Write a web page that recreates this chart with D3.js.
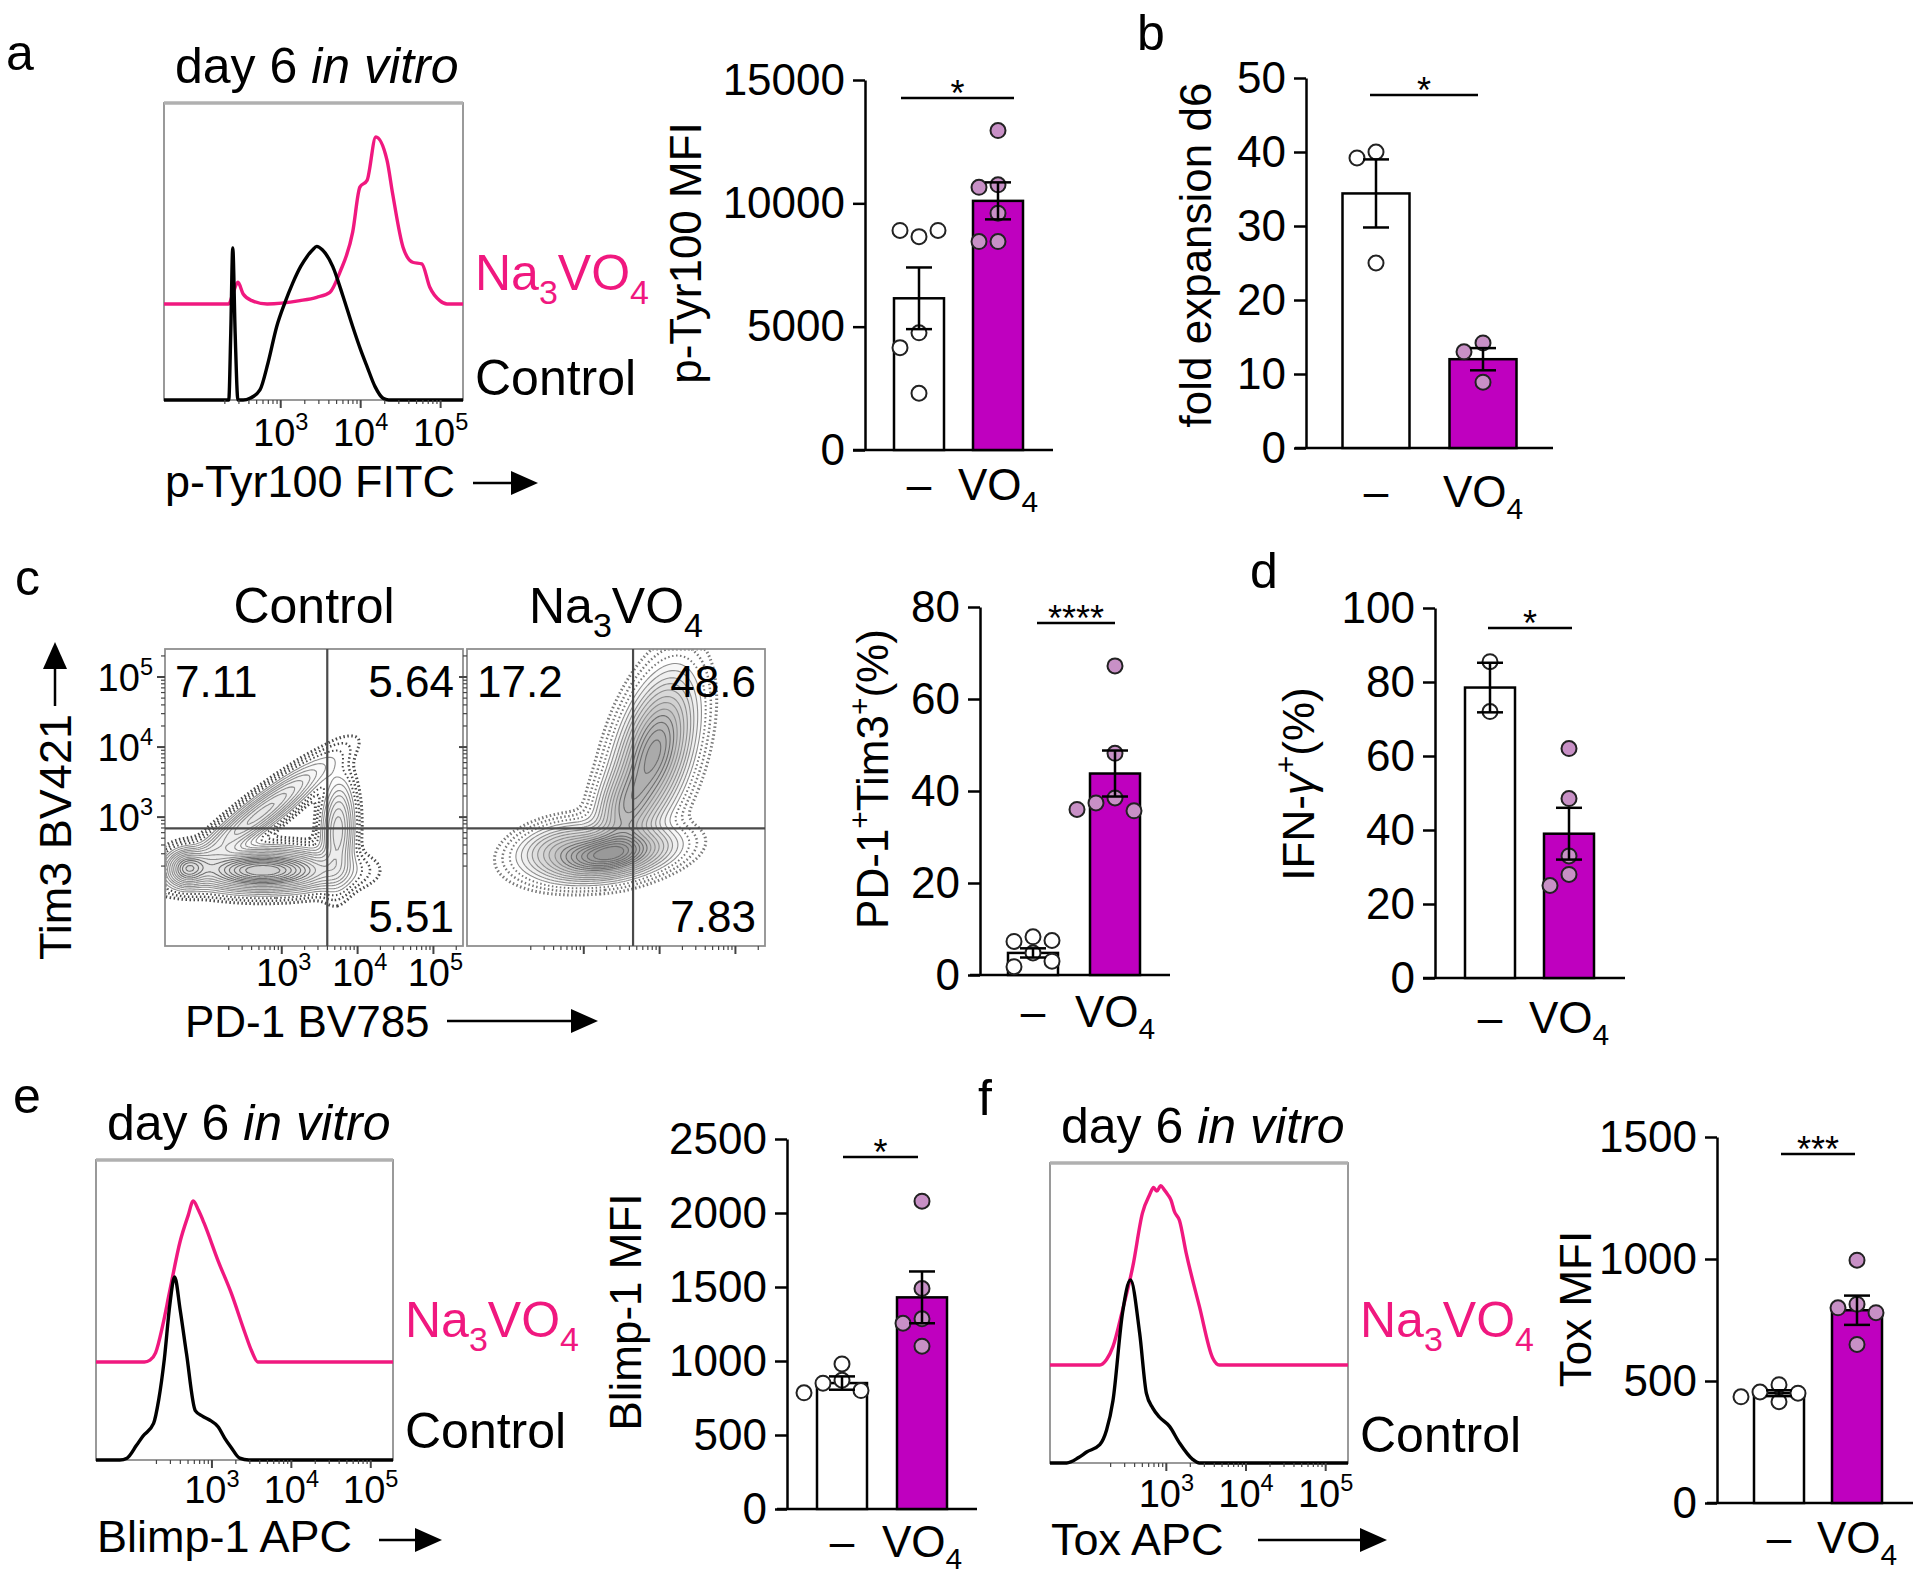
<!DOCTYPE html>
<html>
<head>
<meta charset="utf-8">
<script src="https://cdn.jsdelivr.net/npm/d3@7"></script>
<style>
body { margin: 0; background: #fff; }
svg { display: block; font-family: "Liberation Sans", Arial, Helvetica, sans-serif; }
text { white-space: pre; }
</style>
</head>
<body>
<svg id="fig" width="1920" height="1580"></svg>
<script>
// ---------- data ----------
const groups = ["–", "VO4"];

// a: p-Tyr100 MFI
const aCtrl = [8650, 8900, 8900, 4750, 4150, 2300];
const aVO4 = [12950, 10750, 10650, 9600, 8450, 8450];
const aMean = [6150, 10100];
const aSem = [1250, 750];
const aTicks = [0, 5000, 10000, 15000];

// b: fold expansion d6
const bCtrl = [40, 39.2, 25];
const bVO4 = [14.2, 13, 8.9];
const bMean = [34.4, 12];
const bSem = [4.6, 1.5];
const bTicks = [0, 10, 20, 30, 40, 50];

// c: PD-1+Tim3+ (%)
const cCtrl = [8.3, 7.3, 7.5, 4.8, 1.8, 3.0];
const cVO4 = [67.2, 48.2, 38.5, 37.4, 35.7, 36.0];
const cMean = [4.8, 43.8];
const cSem = [1.0, 5.0];
const cTicks = [0, 20, 40, 60, 80];

// d: IFN-g+ (%)
const dCtrl = [85.5, 72];
const dVO4 = [62, 48.5, 33, 28, 25];
const dMean = [78.5, 39];
const dSem = [6.7, 7];
const dTicks = [0, 20, 40, 60, 80, 100];

// e: Blimp-1 MFI
const eCtrl = [980, 870, 850, 800, 785];
const eVO4 = [2080, 1490, 1285, 1255, 1100];
const eMean = [851, 1430];
const eSem = [45, 175];
const eTicks = [0, 500, 1000, 1500, 2000, 2500];

// f: Tox MFI
const fCtrl = [485, 455, 450, 435, 415];
const fVO4 = [995, 815, 800, 780, 650];
const fMean = [450, 790];
const fSem = [12, 60];
const fTicks = [0, 500, 1000, 1500];

// histograms: [log10 intensity, % of mode]
const histDomain = [1.54, 5.28];
const histDecades = [3, 4, 5];
const aHistCtrl = [[1.54,0],[2.35,0],[2.375,40],[2.40,91],[2.43,40],[2.465,0],[2.53,0],[2.615,1],[2.74,6],[2.84,22],[2.95,44],[3.05,58],[3.15,70],[3.25,80],[3.33,86],[3.40,90],[3.45,92],[3.52,90],[3.65,80],[3.78,62],[3.90,44],[4.00,30],[4.08,20],[4.18,8],[4.28,1],[4.35,0],[5.28,0]];
const aHistVO4 = [[1.54,0],[2.35,0],[2.40,6],[2.465,13],[2.53,6],[2.64,2],[2.83,0],[3.24,2],[3.45,4],[3.615,7],[3.74,19],[3.90,43],[3.99,70],[4.08,74],[4.19,100],[4.33,86],[4.40,66],[4.53,34],[4.65,25],[4.765,24],[4.865,10],[4.99,2],[5.08,0],[5.28,0]];
const eHistCtrl = [[1.54,0],[1.84,0],[1.93,1],[2.05,8],[2.13,13],[2.265,20],[2.33,33],[2.40,55],[2.47,85],[2.53,100],[2.60,82],[2.68,58],[2.79,27],[2.88,24],[2.965,22],[3.08,18],[3.16,12],[3.24,7],[3.35,1],[3.465,0],[5.28,0]];
const eHistVO4 = [[1.54,0],[2.15,0],[2.22,1],[2.29,5],[2.38,20],[2.465,38],[2.60,66],[2.70,80],[2.765,88],[2.83,83],[2.90,76],[3.08,55],[3.24,38],[3.415,16],[3.50,6],[3.58,0],[5.28,0]];
const fHistCtrl = [[1.54,0],[1.75,0],[1.9,3],[2.0,6],[2.165,10],[2.25,18],[2.33,34],[2.45,82],[2.55,100],[2.665,71],[2.75,38],[2.83,30],[2.915,25],[3.04,20],[3.165,11],[3.33,2],[3.415,0],[5.28,0]];
const fHistVO4 = [[1.54,0],[2.165,0],[2.25,3],[2.33,10],[2.45,30],[2.58,54],[2.70,83],[2.79,93],[2.84,97],[2.88,95],[2.93,98],[2.97,96],[3.02,93],[3.06,90],[3.1,84],[3.165,79],[3.25,61],[3.415,32],[3.58,4],[3.665,0],[5.28,0]];

// contour plots: populations [log PD-1, log Tim3, sd major, sd minor, angle deg, weight]
const cXDomain = [1.46, 5.39];
const cYDomain = [1.16, 5.4];
const ctrlPop = [
  [2.75, 2.24, 0.52, 0.16, 0, 1.0],
  [2.72, 3.05, 0.62, 0.12, 40, 0.45],
  [3.74, 2.80, 0.40, 0.12, 88, 0.4],
  [1.75, 2.27, 0.15, 0.15, 0, 0.5]
];
const vo4Pop = [
  [3.30, 2.46, 0.45, 0.18, 10, 1.0],
  [3.93, 3.93, 0.60, 0.25, 75, 0.8],
  [3.54, 3.10, 0.35, 0.20, 75, 0.4],
  [2.68, 2.60, 0.35, 0.18, 15, 0.25]
];
const contourLevels = [0.012, 0.025, 0.045, 0.07, 0.1, 0.14, 0.18, 0.23, 0.29, 0.35, 0.42, 0.49, 0.56, 0.63, 0.7, 0.77, 0.84, 0.91];
const gateX = [3.6, 3.65];
const gateY = [2.84, 2.84];
const quadCtrl = ["7.11", "5.64", "5.51"];
const quadVO4 = ["17.2", "48.6", "7.83"];

// ---------- drawing ----------
const PINK = "#f0187f";
const PURPLE = "#bf00bf";
const DOT = "#c890c6";
const svg = d3.select("#fig");
const defs = svg.append("defs");

// parts: [text, kind] kind 0 normal, 1 sub, 2 sup, 3 italic
function rich(sel, parts, size, small) {
  let shift = 0;
  small = small || 0.68;
  parts.forEach(([t, k]) => {
    const target = k == 1 ? size * 0.28 : k == 2 ? -size * 0.42 : 0;
    const ts = sel.append("tspan").text(t)
      .attr("font-size", (k == 1 || k == 2) ? size * small : size)
      .attr("dy", target - shift);
    if (k == 3) ts.attr("font-style", "italic");
    shift = target;
  });
  return sel;
}

function label(x, y, parts, size, opts) {
  opts = opts || {};
  const t = svg.append("text").attr("x", x).attr("y", y)
    .attr("text-anchor", opts.anchor || "start")
    .attr("fill", opts.fill || "#000");
  if (opts.rotate) t.attr("transform", `rotate(-90,${x},${y})`);
  return rich(t, parts, size);
}

function arrow(x1, y1, x2, y2) {
  const len = Math.hypot(x2 - x1, y2 - y1), ux = (x2 - x1) / len, uy = (y2 - y1) / len;
  const hl = 27, hw = 12;
  const bx = x2 - ux * hl, by = y2 - uy * hl;
  svg.append("line").attr("x1", x1).attr("y1", y1).attr("x2", bx).attr("y2", by)
    .attr("stroke", "#000").attr("stroke-width", 2.5);
  svg.append("path")
    .attr("d", `M${x2},${y2}L${bx - uy * hw},${by + ux * hw}L${bx + uy * hw},${by - ux * hw}Z`)
    .attr("fill", "#000");
}

const NA3VO4 = [["Na", 0], ["3", 1], ["VO", 0], ["4", 1]];
const VO4 = [["VO", 0], ["4", 1]];

// panel letters
[["a", 6, 70], ["b", 1137, 50], ["c", 15, 595], ["d", 1250, 588], ["e", 13, 1113], ["f", 978, 1115]]
  .forEach(([t, x, y]) => label(x, y, [[t, 0]], 50));

function swarm(vals, y, cx, r) {
  const placed = [];
  const d = 2 * r + 4;
  vals.forEach(v => {
    const py = y(v);
    for (const off of [0, -d, d, -2 * d, 2 * d, -3 * d, 3 * d]) {
      if (placed.every(p => Math.hypot(p.x - (cx + off), p.y - py) >= 2 * r + 1)) {
        placed.push({ x: cx + off, y: py });
        break;
      }
    }
  });
  return placed;
}

function barPanel(o) {
  const g = svg.append("g");
  const y = d3.scaleLinear().domain([0, o.ticks[o.ticks.length - 1]]).range([o.y0, o.yTop]);
  const step = o.c2 - o.c1;
  const x = d3.scaleBand().domain(groups).range([o.c1 - step / 2, o.c2 + step / 2])
    .paddingInner(1 - o.bw / step).paddingOuter((1 - o.bw / step) / 2);

  const ax = g.append("g").attr("transform", `translate(${o.axisX},0)`)
    .call(d3.axisLeft(y).tickValues(o.ticks).tickSize(12).tickSizeOuter(0).tickPadding(8).tickFormat(d3.format("d")));
  ax.attr("font-size", 44).attr("font-family", null);
  ax.selectAll("line,path").attr("stroke", "#000").attr("stroke-width", 2.5);
  ax.selectAll("text").attr("fill", "#000");

  g.append("line").attr("x1", o.xAxis[0]).attr("x2", o.xAxis[1]).attr("y1", o.y0).attr("y2", o.y0)
    .attr("stroke", "#000").attr("stroke-width", 2.5);

  const means = o.mean, sems = o.sem, sets = [o.ctrl, o.vo4];
  g.selectAll(".bar").data(groups).join("rect")
    .attr("x", d => x(d)).attr("width", x.bandwidth())
    .attr("y", (d, i) => y(means[i])).attr("height", (d, i) => o.y0 - y(means[i]))
    .attr("fill", (d, i) => i ? PURPLE : "#fff").attr("stroke", "#000").attr("stroke-width", 2.5);

  groups.forEach((gr, i) => {
    const cx = x(gr) + x.bandwidth() / 2;
    swarm(sets[i], y, cx, 7.5).forEach(p => {
      g.append("circle").attr("cx", p.x).attr("cy", p.y).attr("r", 7.5)
        .attr("fill", i ? DOT : "#fff").attr("stroke", "#222").attr("stroke-width", 2);
    });
    const cw = 13;
    const e = g.append("g").attr("stroke", "#000").attr("stroke-width", 2.5);
    e.append("line").attr("x1", cx).attr("x2", cx).attr("y1", y(means[i] - sems[i])).attr("y2", y(means[i] + sems[i]));
    [means[i] - sems[i], means[i] + sems[i]].forEach(v =>
      e.append("line").attr("x1", cx - cw).attr("x2", cx + cw).attr("y1", y(v)).attr("y2", y(v)));
    const tx = g.append("text").attr("x", cx).attr("y", o.xlabY).attr("text-anchor", "middle");
    rich(tx, i ? VO4 : [["–", 0]], 44);
  });

  g.append("line").attr("x1", o.sig[0]).attr("x2", o.sig[1]).attr("y1", o.sig[2]).attr("y2", o.sig[2])
    .attr("stroke", "#000").attr("stroke-width", 2.5);
  g.append("text").attr("x", (o.sig[0] + o.sig[1]) / 2).attr("y", o.sig[2] + 8)
    .attr("text-anchor", "middle").attr("font-size", 36).text(o.sigText);

  label(o.ylabX, o.ylabY, o.ylab, 44, { anchor: "middle", rotate: true });
}

barPanel({ ctrl: aCtrl, vo4: aVO4, mean: aMean, sem: aSem, ticks: aTicks, axisX: 865, y0: 450, yTop: 80,
  c1: 919, c2: 998, bw: 50, xAxis: [853, 1053], sig: [901, 1014, 98], sigText: "*", xlabY: 500,
  ylab: [["p-Tyr100 MFI", 0]], ylabX: 701, ylabY: 253 });
barPanel({ ctrl: bCtrl, vo4: bVO4, mean: bMean, sem: bSem, ticks: bTicks, axisX: 1306, y0: 448, yTop: 78,
  c1: 1376, c2: 1483, bw: 67, xAxis: [1295, 1553], sig: [1370, 1478, 95], sigText: "*", xlabY: 507,
  ylab: [["fold expansion d6", 0]], ylabX: 1211, ylabY: 255 });
barPanel({ ctrl: cCtrl, vo4: cVO4, mean: cMean, sem: cSem, ticks: cTicks, axisX: 980, y0: 975, yTop: 607,
  c1: 1033, c2: 1115, bw: 50, xAxis: [970, 1170], sig: [1037, 1115, 623], sigText: "****", xlabY: 1027,
  ylab: [["PD-1", 0], ["+", 2], ["Tim3", 0], ["+", 2], ["(%)", 0]], ylabX: 888, ylabY: 779 });
barPanel({ ctrl: dCtrl, vo4: dVO4, mean: dMean, sem: dSem, ticks: dTicks, axisX: 1435, y0: 978, yTop: 608,
  c1: 1490, c2: 1569, bw: 50, xAxis: [1423, 1625], sig: [1488, 1572, 628], sigText: "*", xlabY: 1033,
  ylab: [["IFN-", 0], ["γ", 3], ["+", 2], ["(%)", 0]], ylabX: 1314, ylabY: 784 });
barPanel({ ctrl: eCtrl, vo4: eVO4, mean: eMean, sem: eSem, ticks: eTicks, axisX: 787, y0: 1509, yTop: 1139,
  c1: 842, c2: 922, bw: 50, xAxis: [777, 977], sig: [843, 918, 1157], sigText: "*", xlabY: 1557,
  ylab: [["Blimp-1 MFI", 0]], ylabX: 641, ylabY: 1312 });
barPanel({ ctrl: fCtrl, vo4: fVO4, mean: fMean, sem: fSem, ticks: fTicks, axisX: 1717, y0: 1503, yTop: 1137,
  c1: 1779, c2: 1857, bw: 50, xAxis: [1707, 1913], sig: [1781, 1855, 1154], sigText: "***", xlabY: 1553,
  ylab: [["Tox MFI", 0]], ylabX: 1591, ylabY: 1309 });

// ---------- histograms ----------
function decadeTicks(g, scale, pos, orient, domain) {
  // major + minor log ticks along one edge
  const minors = [];
  for (let n = 2; n <= 5; n++) for (let k = 2; k <= 9; k++) {
    const v = n + Math.log10(k);
    if (v > domain[0] && v < domain[1]) minors.push(v);
  }
  const tg = g.append("g").attr("stroke", "#444");
  minors.forEach(v => {
    const p = scale(v);
    if (orient == "bottom") tg.append("line").attr("x1", p).attr("x2", p).attr("y1", pos).attr("y2", pos + 4).attr("stroke-width", 1.2);
    else tg.append("line").attr("y1", p).attr("y2", p).attr("x1", pos).attr("x2", pos - 4).attr("stroke-width", 1.2);
  });
  histDecades.forEach(v => {
    const p = scale(v);
    if (orient == "bottom") tg.append("line").attr("x1", p).attr("x2", p).attr("y1", pos).attr("y2", pos + 8).attr("stroke-width", 2);
    else tg.append("line").attr("y1", p).attr("y2", p).attr("x1", pos).attr("x2", pos - 8).attr("stroke-width", 2);
  });
}

function decadeLabel(x, y, v, anchor) {
  const t = svg.append("text").attr("x", x).attr("y", y).attr("text-anchor", anchor || "middle");
  rich(t, [["10", 0], [String(v), 2]], 38, 0.62);
}

function histPanel(o) {
  const g = svg.append("g");
  const bottom = o.top + o.h;
  const x = d3.scaleLinear().domain(histDomain).range([o.left, o.left + o.w]);
  const yC = d3.scaleLinear().domain([0, 100]).range([bottom, bottom - o.H]);
  const yV = d3.scaleLinear().domain([0, 100]).range([bottom - o.off, bottom - o.off - o.H]);
  const id = "clip" + o.id;
  defs.append("clipPath").attr("id", id).append("rect")
    .attr("x", o.left).attr("y", o.top).attr("width", o.w).attr("height", o.h + 2);

  g.append("rect").attr("x", o.left).attr("y", o.top).attr("width", o.w).attr("height", o.h)
    .attr("fill", "none").attr("stroke", "#8f8f8f").attr("stroke-width", 1.8);
  g.append("line").attr("x1", o.left).attr("x2", o.left + o.w).attr("y1", o.top).attr("y2", o.top)
    .attr("stroke", "#b0b0b0").attr("stroke-width", 3.5);

  const cg = g.append("g").attr("clip-path", `url(#${id})`);
  const line = yy => d3.line().x(d => x(d[0])).y(d => yy(d[1])).curve(d3.curveMonotoneX);
  cg.append("path").datum(o.vo4).attr("fill", "none").attr("stroke", PINK).attr("stroke-width", 3.4)
    .attr("stroke-linejoin", "round").attr("d", line(yV));
  cg.append("path").datum(o.ctrl).attr("fill", "none").attr("stroke", "#000").attr("stroke-width", 3.4)
    .attr("stroke-linejoin", "round").attr("d", line(yC));

  decadeTicks(g, x, bottom, "bottom", histDomain);
  histDecades.forEach(v => decadeLabel(x(v), o.tickY, v));

  label(o.left + 11, o.top - 20, [["day 6 ", 0], ["in vitro", 3]], 50);
  label(o.left + o.w + 12, o.naY, NA3VO4, 50, { fill: PINK });
  label(o.left + o.w + 12, o.ctY, [["Control", 0]], 50);
  label(o.left + 1, o.axY, [[o.axis, 0]], 45);
  arrow(o.arrow[0], o.arrow[2], o.arrow[1], o.arrow[2]);
}

histPanel({ id: "a", left: 164, top: 103, w: 299, h: 297, H: 167, off: 96, ctrl: aHistCtrl, vo4: aHistVO4,
  tickY: 446, naY: 290, ctY: 395, axY: 497, axis: "p-Tyr100 FITC", arrow: [473, 538, 483] });
histPanel({ id: "e", left: 96, top: 1160, w: 297, h: 300, H: 183, off: 98, ctrl: eHistCtrl, vo4: eHistVO4,
  tickY: 1503, naY: 1337, ctY: 1448, axY: 1552, axis: "Blimp-1 APC", arrow: [379, 442, 1540] });
histPanel({ id: "f", left: 1050, top: 1163, w: 298, h: 300, H: 183, off: 98, ctrl: fHistCtrl, vo4: fHistVO4,
  tickY: 1507, naY: 1337, ctY: 1452, axY: 1555, axis: "Tox APC", arrow: [1258, 1387, 1540] });

// ---------- contour plots (c) ----------
function contourPanel(o) {
  const g = svg.append("g");
  const xs = d3.scaleLinear().domain(cXDomain).range([o.left, o.left + o.w]);
  const ys = d3.scaleLinear().domain(cYDomain).range([o.top + o.h, o.top]);
  const cell = 2, nx = Math.ceil(o.w / cell), ny = Math.ceil(o.h / cell);
  const dens = (X, Y) => {
    let s = 0;
    o.pop.forEach(([cx, cy, s1, s2, ang, w]) => {
      const a = ang * Math.PI / 180, dx = X - cx, dy = Y - cy;
      const u = dx * Math.cos(a) + dy * Math.sin(a), v = -dx * Math.sin(a) + dy * Math.cos(a);
      s += w * Math.exp(-0.5 * (u * u / (s1 * s1) + v * v / (s2 * s2)));
    });
    return s;
  };
  const vals = new Array(nx * ny);
  for (let j = 0; j < ny; j++) for (let i = 0; i < nx; i++)
    vals[j * nx + i] = dens(xs.invert(o.left + (i + 0.5) * cell), ys.invert(o.top + (j + 0.5) * cell));
  const mx = d3.max(vals);
  const contours = d3.contours().size([nx, ny]).thresholds(contourLevels.map(l => l * mx))(vals);
  const left = o.left, top = o.top;
  const path = d3.geoPath(d3.geoTransform({ point(px, py) { this.stream.point(left + px * cell, top + py * cell); } }));
  const id = "clip" + o.id;
  defs.append("clipPath").attr("id", id).append("rect")
    .attr("x", o.left).attr("y", o.top).attr("width", o.w).attr("height", o.h);
  const cg = g.append("g").attr("clip-path", `url(#${id})`);
  contours.forEach((c, i) => {
    const p = cg.append("path").attr("d", path(c));
    if (i < 3) p.attr("fill", "none").attr("stroke", o.dot).attr("stroke-width", 3 - i * 0.5)
      .attr("stroke-dasharray", "1.5 2.5").attr("opacity", 0.8);
    else p.attr("fill", "#000").attr("fill-opacity", o.shade).attr("stroke", i > 10 ? "#6e6e6e" : "#8e8e8e").attr("stroke-width", 1.1);
  });

  g.append("rect").attr("x", o.left).attr("y", o.top).attr("width", o.w).attr("height", o.h)
    .attr("fill", "none").attr("stroke", "#8f8f8f").attr("stroke-width", 1.8);
  g.append("line").attr("x1", xs(o.gx)).attr("x2", xs(o.gx)).attr("y1", o.top).attr("y2", o.top + o.h)
    .attr("stroke", "#4a4a4a").attr("stroke-width", 2.2);
  g.append("line").attr("x1", o.left).attr("x2", o.left + o.w).attr("y1", ys(o.gy)).attr("y2", ys(o.gy))
    .attr("stroke", "#4a4a4a").attr("stroke-width", 2.2);

  decadeTicks(g, xs, o.top + o.h, "bottom", cXDomain);
  decadeTicks(g, ys, o.left, "left", cYDomain);

  label(o.left + 10, o.top + 48, [[o.quad[0], 0]], 44);
  label(o.left + o.w - 9, o.top + 48, [[o.quad[1], 0]], 44, { anchor: "end" });
  label(o.left + o.w - 9, o.top + o.h - 14, [[o.quad[2], 0]], 44, { anchor: "end" });
  label(o.left + o.w / 2, 623, o.title, 50, { anchor: "middle" });
  return { xs, ys };
}

const cc = contourPanel({ id: "cc", left: 165, top: 649, w: 298, h: 297, pop: ctrlPop, gx: gateX[0], gy: gateY[0],
  quad: quadCtrl, dot: "#1a1a1a", shade: 0.012, title: [["Control", 0]] });
contourPanel({ id: "cv", left: 467, top: 649, w: 298, h: 297, pop: vo4Pop, gx: gateX[1], gy: gateY[1],
  quad: quadVO4, dot: "#555", shade: 0.03, title: NA3VO4 });

histDecades.forEach(v => {
  decadeLabel(cc.xs(v) + 2, 986, v);
  decadeLabel(153, cc.ys(v) + 14, v, "end");
});
label(185, 1037, [["PD-1 BV785", 0]], 44);
arrow(447, 1021, 598, 1021);
label(71, 960, [["Tim3 BV421", 0]], 45, { rotate: true });
arrow(55, 706, 55, 642);
</script>
</body>
</html>
